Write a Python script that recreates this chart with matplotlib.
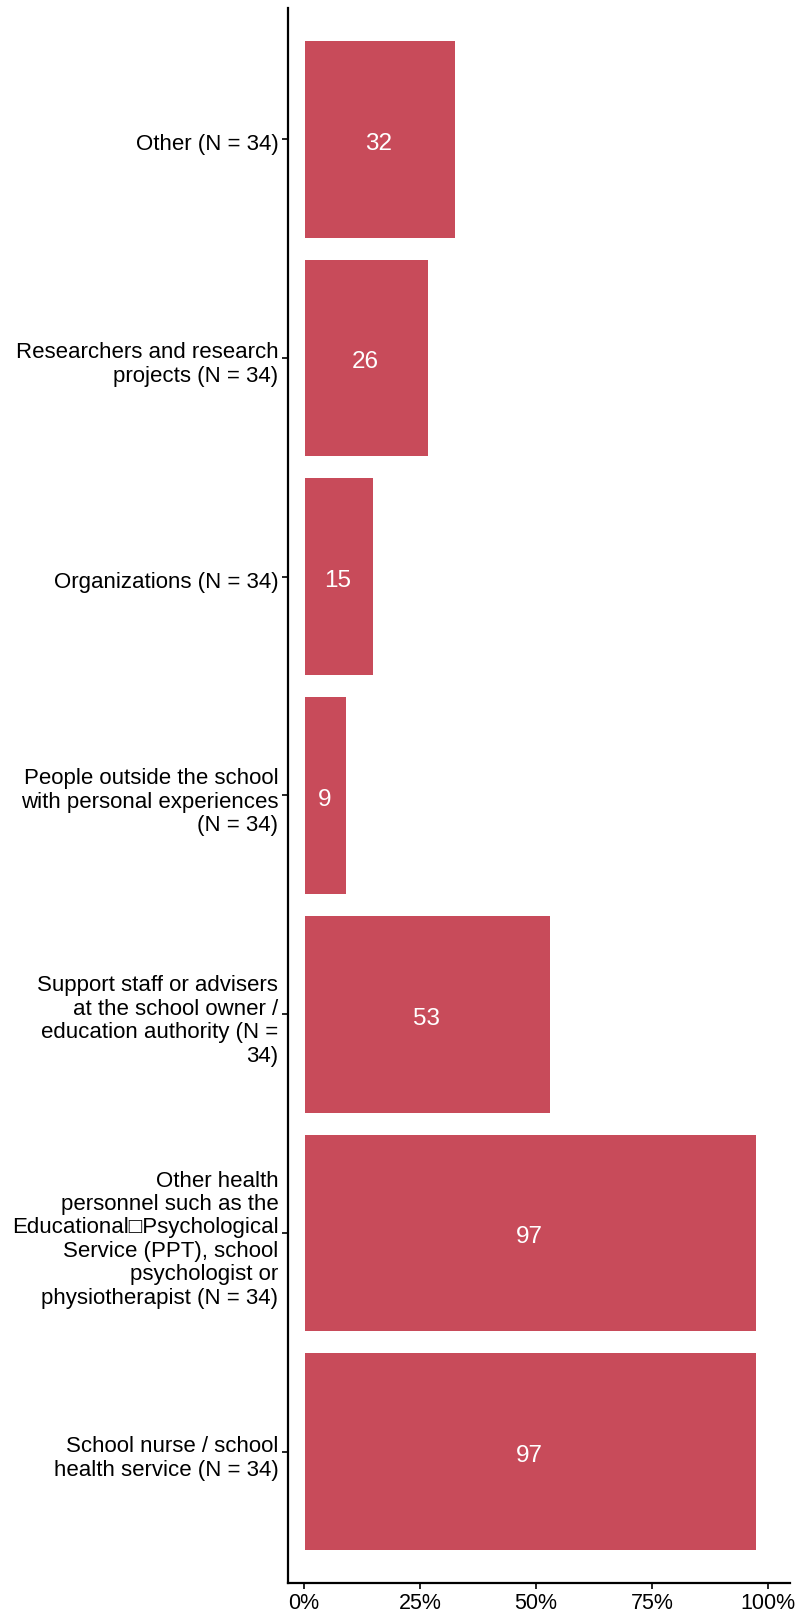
import matplotlib
matplotlib.use("Agg")
import matplotlib.pyplot as plt
import matplotlib.transforms as mtransforms
from matplotlib.ticker import FuncFormatter

plt.rcParams['font.family'] = ['Liberation Sans', 'DejaVu Sans']

# categories, top to bottom as in the chart
categories = [
    "Other (N = 34)",
    "Researchers and research\nprojects (N = 34)",
    "Organizations (N = 34)",
    "People outside the school\nwith personal experiences\n(N = 34)",
    "Support staff or advisers\nat the school owner /\neducation authority (N =\n34)",
    "Other health\npersonnel such as the\nEducational\u25a1Psychological\nService (PPT), school\npsychologist or\nphysiotherapist (N = 34)",
    "School nurse / school\nhealth service (N = 34)",
]
percent = [32.4, 26.5, 14.7, 8.8, 52.9, 97.1, 97.1]
bar_labels = ["32", "26", "15", "9", "53", "97", "97"]
x_ticks = [0, 25, 50, 75, 100]

bar_color = "#C84B5A"

fig = plt.figure(figsize=(7.99, 16.17), dpi=100)
ax = fig.add_axes([288/799, 1 - 1583/1617, (790 - 288)/799, (1583 - 8)/1617])

ypos = list(range(len(categories)))[::-1]
ax.barh(ypos, percent, height=0.9, color=bar_color, left=0.2)
for y, v, t in zip(ypos, percent, bar_labels):
    ax.text(v/2, y - 0.02, t, ha='center', va='center', color='white', fontsize=17.5)

ax.set_yticks(ypos)
ax.set_yticklabels(categories, fontsize=16, ha='right', linespacing=1.15)
ax.set_ylim(-0.6, 6.6)
ax.set_xlim(-3.4, 104.7)
ax.set_xticks(x_ticks)
ax.xaxis.set_major_formatter(FuncFormatter(lambda v, p: "%d%%" % v))
ax.tick_params(axis='x', labelsize=15.5, length=4.5, width=1.2, pad=2.5)
ax.tick_params(axis='y', length=4, width=1.2, pad=3)

# nudge category labels a little lower, as in the reference
shift = mtransforms.ScaledTranslation(0, -3/100, fig.dpi_scale_trans)
for lab in ax.get_yticklabels():
    lab.set_transform(lab.get_transform() + shift)

for s in ['top', 'right']:
    ax.spines[s].set_visible(False)
for s in ['left', 'bottom']:
    ax.spines[s].set_linewidth(1.6)
    ax.spines[s].set_color('black')

fig.savefig("out.png", dpi=100)
